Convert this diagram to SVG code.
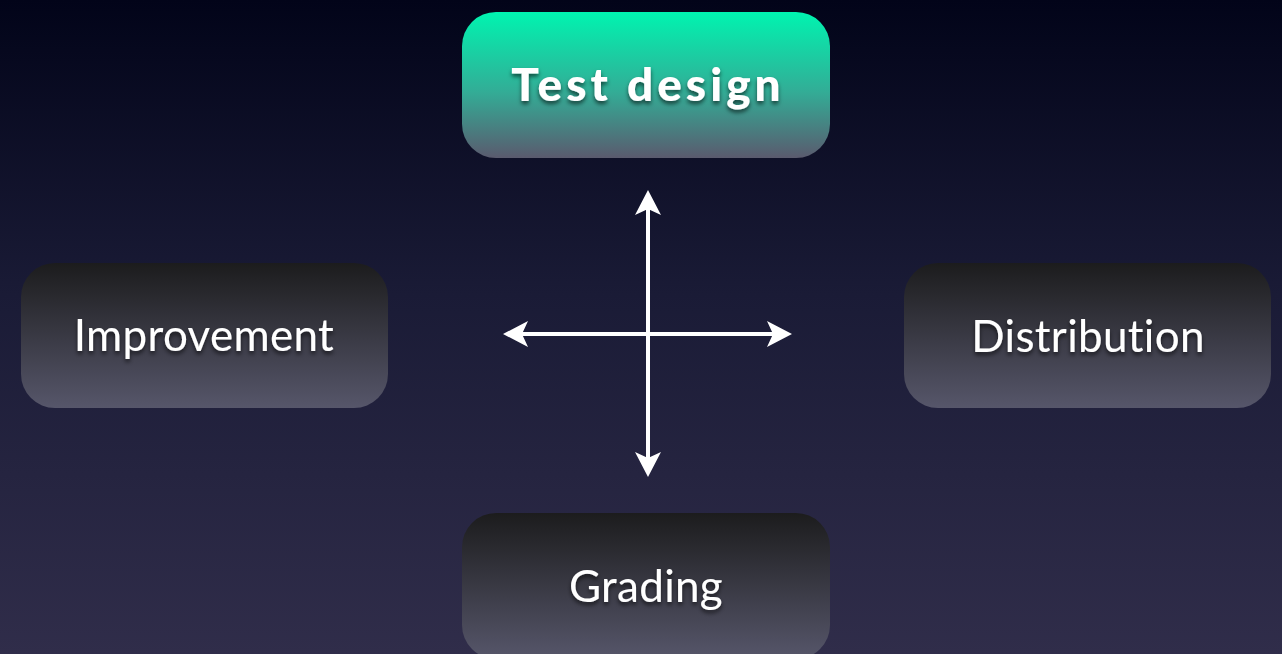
<svg xmlns="http://www.w3.org/2000/svg" width="1282" height="654" viewBox="0 0 1282 654">
  <defs>
    <linearGradient id="bg" x1="0" y1="0" x2="0" y2="1">
      <stop offset="0" stop-color="#020419"/>
      <stop offset="0.45" stop-color="#1a1b36"/>
      <stop offset="1" stop-color="#302d4a"/>
    </linearGradient>
    <linearGradient id="dark" x1="0" y1="0" x2="0" y2="1">
      <stop offset="0" stop-color="#1c1c1d"/>
      <stop offset="1" stop-color="#56566a"/>
    </linearGradient>
    <linearGradient id="green" x1="0" y1="0" x2="0" y2="1">
      <stop offset="0" stop-color="#00f4b0"/>
      <stop offset="0.55" stop-color="#33ac96"/>
      <stop offset="1" stop-color="#5a5a6e"/>
    </linearGradient>
    <filter id="ts" x="-10%" y="-30%" width="120%" height="160%">
      <feDropShadow dx="0" dy="3" stdDeviation="2" flood-color="#000" flood-opacity="0.6"/>
    </filter>
    <marker id="ah" viewBox="0 0 26 26" markerUnits="userSpaceOnUse" markerWidth="26" markerHeight="26" refX="15" refY="13" orient="auto-start-reverse">
      <path d="M0,0 L25,13 L0,26 L6,13 Z" fill="#ffffff"/>
    </marker>
  </defs>
  <style>
    .box { stroke: none; }
    .lbl { font-family: "Lato", "Open Sans", "Liberation Sans", sans-serif; fill: #ffffff; text-anchor: middle; font-size: 44px; letter-spacing: 0.3px; font-variant-ligatures: none; font-feature-settings: "liga" 0, "dlig" 0; filter: url(#ts); }
    .bold { font-weight: 900; font-size: 46px; letter-spacing: 4px; }
    .conn { stroke: #ffffff; stroke-width: 4; fill: none; }
  </style>
  <rect x="0" y="0" width="1282" height="654" fill="url(#bg)"/>

  <g id="node-test-design">
    <rect class="box" x="462" y="12" width="368" height="146" rx="34" fill="url(#green)"/>
    <text class="lbl bold" x="648" y="101">Test design</text>
  </g>
  <g id="node-improvement">
    <rect class="box" x="21" y="263" width="367" height="145" rx="34" fill="url(#dark)"/>
    <text class="lbl" x="204" y="351">Improvement</text>
  </g>
  <g id="node-distribution">
    <rect class="box" x="904" y="263" width="367" height="145" rx="34" fill="url(#dark)"/>
    <text class="lbl" x="1088" y="352">Distribution</text>
  </g>
  <g id="node-grading">
    <rect class="box" x="462" y="513" width="368" height="146" rx="34" fill="url(#dark)"/>
    <text class="lbl" x="646" y="602">Grading</text>
  </g>

  <g id="connectors">
    <line class="conn" x1="648" y1="200" x2="648" y2="467" marker-start="url(#ah)" marker-end="url(#ah)"/>
    <line class="conn" x1="513" y1="334" x2="782" y2="334" marker-start="url(#ah)" marker-end="url(#ah)"/>
  </g>
</svg>
